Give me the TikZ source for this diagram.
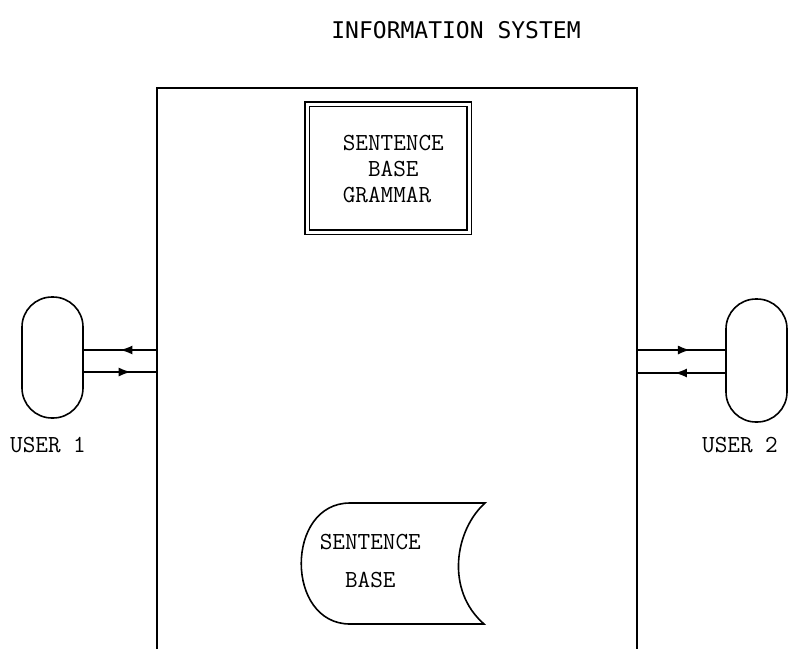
\documentclass[tikz,border=0pt]{standalone}
\usepackage{fontspec}
\newfontfamily\titlefont{DejaVu Sans Mono}
\usetikzlibrary{arrows.meta,decorations.markings}
\begin{document}
\begin{tikzpicture}[x=1pt,y=-1pt,line width=1.6pt,
  lbl/.style={font=\ttfamily\fontsize{24.5}{26}\selectfont,inner sep=0pt},
  flow/.style={line width=1.3pt,decoration={markings,mark=at position #1 with {\arrow{Latex[length=12pt,width=9pt]}}},postaction={decorate}},
]
\useasboundingbox (0,0) rectangle (792,649);
\node[font=\titlefont\fontsize{23}{26}\selectfont,inner sep=0pt] (title) at (456,30) {INFORMATION SYSTEM};
% system box (open at bottom)
\coordinate (sbl) at (157,649);
\coordinate (sbr) at (637,649);
\draw (sbl) -- (157,88) -- (637,88) -- (sbr);
% grammar box
\node[draw,double,double distance=3pt,line width=1.4pt,minimum width=162pt,minimum height=128pt,inner sep=0pt] (gram) at (388,168) {};
\node[lbl,align=left,anchor=west] (gramtxt) at (342,169) {SENTENCE\\\phantom{SE}BASE\\GRAMMAR};
% users
\node[draw,rounded corners=30pt,minimum width=61pt,minimum height=121pt] (u1) at (52.5,357.5) {};
\node[draw,rounded corners=30pt,minimum width=61pt,minimum height=123pt] (u2) at (756.5,360.5) {};
\node[lbl] (u1l) at (48,445) {USER 1};
\node[lbl] (u2l) at (740,445) {USER 2};
% connectors
\coordinate (l1) at (157,350); \coordinate (l2) at (157,372);
\coordinate (r1) at (637,350); \coordinate (r2) at (637,373);
\draw[flow=0.5] (l1) -- (u1.east |- l1);
\draw[flow=0.64] (u1.east |- l2) -- (l2);
\draw[flow=0.6] (r1) -- (u2.west |- r1);
\draw[flow=0.57] (u2.west |- r2) -- (r2);
% sentence base
\draw (350,503) -- (485,503) .. controls (455,530) and (445,590) .. (484,624) -- (350,624)
  .. controls (285,624) and (285,503) .. (350,503);
\node[lbl,align=left,anchor=west] (sbtxt) at (319,561) {SENTENCE\\[12pt]\phantom{SE}BASE};
\end{tikzpicture}
\end{document}
